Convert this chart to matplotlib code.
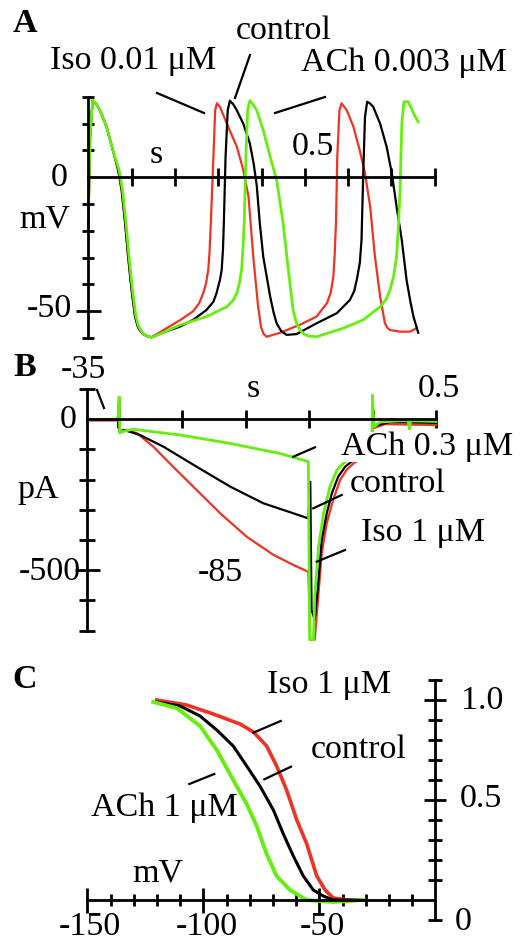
import matplotlib
matplotlib.use("Agg")
import matplotlib.pyplot as plt
from matplotlib.lines import Line2D

plt.rcParams['font.family'] = ['Liberation Serif', 'DejaVu Serif']

RED = '#ee3322'
GREEN = '#66ee11'
BLACK = '#000000'

# ---------------- Panel A: action potentials (t in s, V in mV) ----------------
a_ctrl_t = [0.000, 0.004, 0.010, 0.018, 0.027, 0.042, 0.057, 0.069, 0.077, 0.085, 0.092, 0.100, 0.108,
            0.114, 0.119, 0.127, 0.135, 0.146, 0.175, 0.212, 0.242, 0.273, 0.289, 0.296, 0.304, 0.308,
            0.311, 0.313, 0.317, 0.322, 0.327, 0.335, 0.343, 0.358, 0.373, 0.382, 0.389, 0.396, 0.404,
            0.420, 0.428, 0.435, 0.446, 0.458, 0.481, 0.527, 0.574, 0.604, 0.614, 0.620, 0.627, 0.631,
            0.635, 0.639, 0.644, 0.651, 0.658, 0.674, 0.689, 0.701, 0.712, 0.724, 0.735, 0.744, 0.751, 0.762]
a_ctrl_v = [-18, 15, 28.8, 27.5, 25, 18.9, 10, 2.7, -4.7, -17, -29.6, -42, -52,
            -55.5, -57, -58.5, -59.2, -59.7, -57.8, -55.7, -53.2, -49.5, -46.4, -43.3, -38.3, -34.6,
            -27, -17.2, 7.7, 25, 28.6, 27.2, 25, 20, 12.7, 5, -3, -17, -29.6,
            -44.5, -50.5, -54.5, -57.5, -58.8, -58.5, -54.5, -50.7, -45.8, -42.5, -38.3, -32, -23.4,
            1.5, 22.6, 28.2, 27.5, 26.3, 20, 11.4, 1.5, -11, -23.4, -38.3, -46.5, -52, -58]

a_iso_t = [0.000, 0.004, 0.010, 0.018, 0.027, 0.042, 0.057, 0.069, 0.077, 0.085, 0.092, 0.100, 0.108,
           0.114, 0.119, 0.127, 0.135, 0.146, 0.181, 0.212, 0.242, 0.256, 0.266, 0.272, 0.277, 0.280,
           0.283, 0.289, 0.293, 0.297, 0.304, 0.320, 0.343, 0.358, 0.370, 0.381, 0.392, 0.399, 0.405,
           0.412, 0.443, 0.489, 0.527, 0.551, 0.560, 0.566, 0.569, 0.572, 0.575, 0.580, 0.585, 0.597,
           0.612, 0.627, 0.639, 0.651, 0.662, 0.674, 0.685, 0.691, 0.697, 0.720, 0.743, 0.758]
a_iso_v = [-20, 15, 28.5, 27.3, 25, 18.9, 10, 2.7, -4.7, -17, -29.6, -42, -52,
           -55.5, -57, -58.5, -59.2, -59.7, -56.3, -53.3, -50, -47, -43, -39.5, -34.6, -28,
           -17, 7.7, 25, 27.6, 26.3, 20, 11.4, 2.7, -7.2, -29.6, -48, -56, -58.5,
           -59.5, -58, -55, -52, -47, -43, -37, -29, -17, 7.7, 25, 27.6, 25,
           19, 10, 1.5, -11, -29.6, -44.5, -54.5, -56.2, -57, -57.6, -57.6, -56.3]

a_ach_t = [0.000, 0.004, 0.010, 0.018, 0.027, 0.042, 0.057, 0.071, 0.079, 0.087, 0.094, 0.102, 0.110,
           0.116, 0.121, 0.128, 0.136, 0.147, 0.175, 0.212, 0.273, 0.320, 0.334, 0.343, 0.349, 0.354,
           0.357, 0.360, 0.364, 0.368, 0.373, 0.380, 0.389, 0.404, 0.420, 0.435, 0.450, 0.462, 0.473,
           0.481, 0.489, 0.498, 0.508, 0.527, 0.589, 0.635, 0.674, 0.688, 0.697, 0.705, 0.712, 0.716,
           0.720, 0.724, 0.729, 0.739, 0.751, 0.762]
a_ach_v = [-15, 15, 28.8, 27.5, 25, 18.9, 10, 2.7, -4.7, -17, -29.6, -42, -52,
           -55.5, -57, -58.5, -59.2, -59.7, -57.8, -55.1, -52, -48.3, -46, -43.3, -39.5, -34.6,
           -27, -17.2, 7.7, 25, 28.6, 27.3, 25, 17.6, 7.7, -1, -17.2, -34.6, -49.5,
           -54.5, -57, -58.5, -59.2, -59.5, -56.3, -53.2, -48.3, -45.5, -42, -37, -29.6, -19,
           -4.7, 20, 28.2, 28.2, 23.9, 20.7]

# ---------------- Panel B: If current (t in s, I in pA) ----------------
b_ctrl_t = [-0.049, -0.001, 0.001, 0.002, 0.008, 0.034, 0.071, 0.123, 0.176, 0.228, 0.275,
            0.299, 0.302, 0.304, 0.309, 0.315, 0.320, 0.328, 0.336, 0.346, 0.357, 0.367,
            0.399, 0.400, 0.402, 0.428, 0.500]
b_ctrl_i = [0, 0, 60, -42, -35, -52, -91, -157, -223, -278, -311,
            -328, -207, -631, -664, -532, -400, -311, -245, -190, -157, -140,
            -100, 64, -22, -9, -12]

b_iso_t = [-0.049, -0.001, 0.001, 0.002, 0.013, 0.029, 0.055, 0.086, 0.123, 0.160, 0.202,
           0.244, 0.275, 0.299, 0.302, 0.309, 0.315, 0.320, 0.328, 0.338, 0.349, 0.359,
           0.370, 0.399, 0.400, 0.402, 0.420, 0.500]
b_iso_i = [-4, -4, 64, -45, -35, -46, -91, -157, -234, -311, -389,
           -449, -482, -505, -730, -730, -576, -444, -344, -267, -201, -168,
           -146, -108, 70, -29, -16, -19]

b_ach_t = [-0.049, -0.001, 0.001, 0.002, 0.005, 0.023, 0.097, 0.176, 0.254, 0.299, 0.301,
           0.307, 0.309, 0.315, 0.323, 0.333, 0.344, 0.354, 0.372, 0.399, 0.400, 0.402,
           0.412, 0.443, 0.456, 0.458, 0.460, 0.500]
b_ach_i = [0, 0, 74, -45, -41, -33, -52, -80, -113, -140, -730,
           -730, -587, -422, -311, -223, -168, -146, -120, -95, 80, -25,
           -9, -5, -5, -32, -5, -7]

# ---------------- Panel C: activation curves (V in mV, normalised) ----------------
c_ctrl_v = [-120.1, -110, -101.4, -94.2, -87.1, -81.3, -75.6, -69.8, -65.5, -61.2, -56.9,
            -52.6, -48.3, -44, -38, -31]
c_ctrl_y = [0.99, 0.97, 0.92, 0.85, 0.77, 0.67, 0.57, 0.45, 0.33, 0.22, 0.12,
            0.05, 0.02, 0.0, 0.0, 0.0]
c_iso_v = [-120.1, -107.2, -95.7, -84.2, -78.4, -72.7, -68.4, -64.1, -59.7, -55.4, -51.1,
           -47.5, -44, -38, -31]
c_iso_y = [1.0, 0.975, 0.93, 0.88, 0.84, 0.77, 0.67, 0.55, 0.40, 0.28, 0.12,
           0.05, 0.01, 0.0, 0.0]
c_ach_v = [-121.6, -111.5, -101.4, -94.2, -87.1, -81.3, -77, -72.7, -68.4, -62.6, -55.4,
           -44, -31]
c_ach_y = [0.99, 0.96, 0.87, 0.75, 0.60, 0.48, 0.37, 0.23, 0.12, 0.05, 0.0,
           -0.01, 0.0]
c_xtick_labels = ['-150', '-100', '-50']
c_xtick_vals = [-150, -100, -50]

W, H = 521, 943
fig = plt.figure(figsize=(W / 100, H / 100), dpi=100)
FS = 24.5
AXLW = 2.0
TRLW = 1.6


def add_ax(xpx0, xpx1, ypx_top, ypx_bot):
    return fig.add_axes([xpx0 / W, 1 - ypx_bot / H, (xpx1 - xpx0) / W, (ypx_bot - ypx_top) / H])


def ptext(x, y, s, **kw):
    return fig.text(x / W, 1 - y / H, s, ha='center', va='center', fontsize=FS, **kw)


def pline(x0, y0, x1, y1):
    fig.add_artist(Line2D([x0 / W, x1 / W], [1 - y0 / H, 1 - y1 / H], color='black',
                          lw=1.6, transform=fig.transFigure))


def style_axes(ax):
    ax.patch.set_visible(False)
    for sp in ax.spines.values():
        sp.set_linewidth(AXLW)
    ax.tick_params(which='both', direction='inout', width=AXLW)


def no_labels(ax):
    ax.tick_params(which='both', labelleft=False, labelbottom=False,
                   labelright=False, labeltop=False)


# ---------- A ----------
# t=0 at x=88.3 px, 433 px/s ; V=0 at y=177.3 px, 2.68 px/mV
axA = add_ax(88.3 - 0.05 * 433, 88.3 + 0.85 * 433, 177.3 - 35 * 2.68, 177.3 + 65 * 2.68)
axA.set_xlim(-0.05, 0.85)
axA.set_ylim(-65, 35)
style_axes(axA)
axA.spines['top'].set_visible(False)
axA.spines['right'].set_visible(False)
axA.spines['left'].set_position(('data', 0))
axA.spines['bottom'].set_position(('data', 0))
axA.spines['left'].set_bounds(-60, 30)
axA.spines['bottom'].set_bounds(0, 0.8)
axA.set_xticks([0.1 * k for k in range(1, 9)])
axA.set_yticks([-60, -40, -30, -20, -10, 10, 20, 30])
axA.set_yticks([-50], minor=True)
axA.tick_params(axis='x', which='major', length=13)
axA.tick_params(axis='y', which='major', length=9)
axA.tick_params(axis='y', which='minor', length=18)
no_labels(axA)
axA.plot(a_iso_t, a_iso_v, color=RED, lw=TRLW, solid_joinstyle='round')
axA.plot(a_ctrl_t, a_ctrl_v, color=BLACK, lw=TRLW, solid_joinstyle='round')
axA.plot(a_ach_t, a_ach_v, color=GREEN, lw=TRLW + 0.4, solid_joinstyle='round')
axA.text(-0.068, 0, '0', ha='center', va='center', fontsize=FS)
axA.text(-0.091, -49, '-50', ha='center', va='center', fontsize=FS)
axA.text(-0.100, -15.6, 'mV', ha='center', va='center', fontsize=FS)
axA.text(0.156, 8.3, 's', ha='center', va='center', fontsize=FS)
axA.text(0.519, 11.3, '0.5', ha='center', va='center', fontsize=FS)

ptext(25, 23, 'A', fontweight='bold')
ptext(284, 31, 'control')
ptext(133, 61, 'Iso 0.01 \u03bcM')
ptext(404, 63, 'ACh 0.003 \u03bcM')
pline(250, 55, 235, 98)
pline(157, 93, 204, 113)
pline(325, 97, 275, 113)

# ---------- B ----------
# t=0 at x=118.5 px, 635 px/s ; I=0 at y=419.3 px, 0.302 px/pA
axB = add_ax(118.5 - 0.08 * 635, 118.5 + 0.55 * 635, 419.3 - 130 * 0.302, 419.3 + 760 * 0.302)
axB.set_xlim(-0.08, 0.55)
axB.set_ylim(-760, 130)
style_axes(axB)
axB.spines['top'].set_visible(False)
axB.spines['right'].set_visible(False)
axB.spines['left'].set_position(('data', -0.049))
axB.spines['bottom'].set_position(('data', 0))
axB.spines['left'].set_bounds(-700, 100)
axB.spines['bottom'].set_bounds(-0.049, 0.5)
axB.set_xticks([0.1 * k for k in range(0, 6)])
axB.set_yticks([-700, -600, -400, -300, -200, -100, 100])
axB.set_yticks([-500], minor=True)
axB.tick_params(axis='x', which='major', length=13)
axB.tick_params(axis='y', which='major', length=12)
axB.tick_params(axis='y', which='minor', length=18)
no_labels(axB)
axB.plot(b_iso_t, b_iso_i, color=RED, lw=TRLW, clip_on=False)
axB.plot(b_ctrl_t, b_ctrl_i, color=BLACK, lw=TRLW, clip_on=False)
axB.plot(b_ach_t, b_ach_i, color=GREEN, lw=TRLW + 0.4, clip_on=False)
axB.text(-0.0795, 0, '0', ha='center', va='center', fontsize=FS)
axB.text(-0.108, -506, '-500', ha='center', va='center', fontsize=FS)
axB.text(-0.127, -234, 'pA', ha='center', va='center', fontsize=FS)
axB.text(0.212, 101, 's', ha='center', va='center', fontsize=FS)
axB.text(0.505, 101, '0.5', ha='center', va='center', fontsize=FS)

ptext(25, 368, 'B', fontweight='bold')
ptext(83, 370, '-35')
pline(97, 390, 104, 408)
t_ach = ptext(427, 447, 'ACh 0.3 \u03bcM',
              bbox=dict(facecolor='white', edgecolor='none', pad=0))
t_ach.set_zorder(5)
ptext(398, 484, 'control')
ptext(423, 533, 'Iso 1 \u03bcM')
ptext(220, 573, '-85')
pline(293.3, 456.7, 315, 447.3)
pline(313.3, 508.3, 341.7, 495)
pline(316.7, 561.7, 345, 550)

# ---------- C ----------
# V=-150 at x=87.3 px, 2.32 px/mV ; y=0 at y=900 px, 200 px/unit
axC = add_ax(87.3 - 10 * 2.32, 87.3 + 175 * 2.32, 900 - 1.25 * 200, 900 + 0.15 * 200)
axC.set_xlim(-160, 25)
axC.set_ylim(-0.15, 1.25)
style_axes(axC)
axC.spines['top'].set_visible(False)
axC.spines['left'].set_visible(False)
axC.spines['right'].set_position(('data', 0))
axC.spines['bottom'].set_position(('data', 0))
axC.spines['right'].set_bounds(-0.1, 1.1)
axC.spines['bottom'].set_bounds(-150, 0)
axC.yaxis.set_ticks_position('right')
axC.set_xticks(c_xtick_vals)
axC.set_xticks([v for v in range(-140, 0, 10) if v not in (-100, -50)], minor=True)
axC.set_yticks([0.5, 1.0])
axC.set_yticks([-0.1, 0.1, 0.2, 0.3, 0.4, 0.6, 0.7, 0.8, 0.9, 1.1], minor=True)
axC.tick_params(axis='x', which='major', length=18)
axC.tick_params(axis='x', which='minor', length=9)
axC.tick_params(axis='y', which='major', length=16)
axC.tick_params(axis='y', which='minor', length=10)
no_labels(axC)
axC.plot(c_iso_v, c_iso_y, color=RED, lw=2.6)
axC.plot(c_ctrl_v, c_ctrl_y, color=BLACK, lw=2.2)
axC.plot(c_ach_v, c_ach_y, color=GREEN, lw=2.8)
for lab, xv, dx in zip(c_xtick_labels, c_xtick_vals, [1.2, 1.6, 1.2]):
    axC.text(xv + dx, -0.175, lab, ha='center', va='baseline', fontsize=FS)
axC.text(20.1, 0.995, '1.0', ha='center', va='center', fontsize=FS)
axC.text(19.7, 0.505, '0.5', ha='center', va='center', fontsize=FS)
axC.text(11.9, -0.11, '0', ha='center', va='center', fontsize=FS)

ptext(25, 680, 'C', fontweight='bold')
ptext(329, 685, 'Iso 1 \u03bcM')
ptext(359, 750, 'control')
ptext(164, 808, 'ACh 1 \u03bcM')
ptext(158, 873, 'mV')
pline(253.3, 732.7, 280.7, 721)
pline(264.3, 779.3, 291, 766.7)
pline(189.3, 784, 214.3, 774)

fig.savefig('out.png', dpi=100)
